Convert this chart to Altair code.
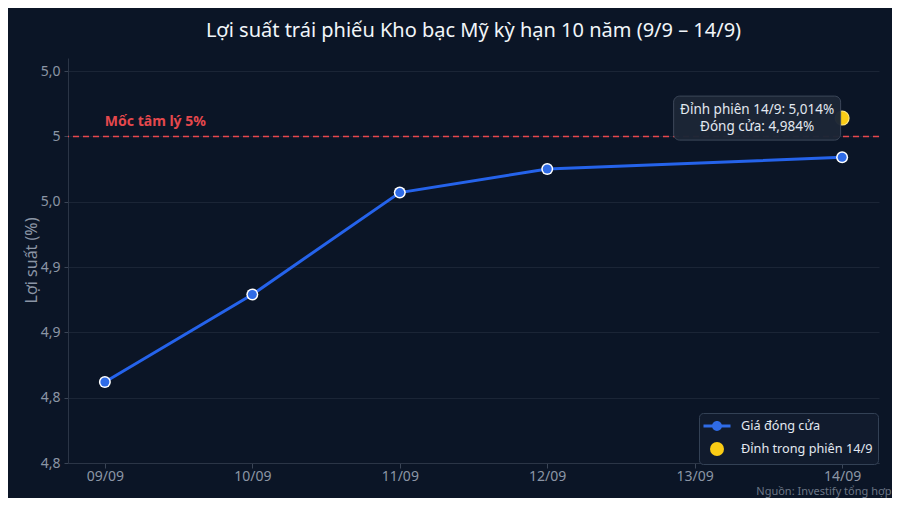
import altair as alt
import pandas as pd

# ---------------- data ----------------
dates = ["09/09", "10/09", "11/09", "12/09", "13/09", "14/09"]
close_dates = ["09/09", "10/09", "11/09", "12/09", "14/09"]
close_values = [4.812, 4.879, 4.957, 4.975, 4.984]
peak_date = "14/09"
peak_value = 5.014
threshold = 5.0
threshold_label = "Mốc tâm lý 5%"
y_ticks = [4.75, 4.80, 4.85, 4.90, 4.95, 5.00, 5.05]
y_tick_labels = ["4,8", "4,8", "4,9", "4,9", "5,0", "5", "5,0"]
series_names = ["Giá đóng cửa", "Đỉnh trong phiên 14/9"]
title_text = "Lợi suất trái phiếu Kho bạc Mỹ kỳ hạn 10 năm (9/9 – 14/9)"
y_title = "Lợi suất (%)"
source_text = "Nguồn: Investify tổng hợp"

def vn(v):
    return f"{v:.3f}".replace(".", ",")

annotation = f"Đỉnh phiên 14/9: {vn(peak_value)}%\nĐóng cửa: {vn(close_values[-1])}%"

close_df = pd.DataFrame({"date": close_dates, "value": close_values, "series": series_names[0]})
peak_df = pd.DataFrame({"date": [peak_date], "value": [peak_value], "series": [series_names[1]], "note": [annotation]})
all_df = pd.concat([close_df, peak_df], ignore_index=True)
thr_df = pd.DataFrame({"date": [dates[0]], "value": [threshold], "label": [threshold_label]})

# ---------------- styles ----------------
FONT = "Noto Sans"
BG = "#0b1526"
BLUE_LINE = "#2563eb"
BLUE_DOT = "#2f6be6"
YELLOW = "#facc15"
RED = "#e5484d"
GRAY = "#8b95a5"

label_expr = "''"
for v, lab in reversed(list(zip(y_ticks, y_tick_labels))):
    label_expr = f"abs(datum.value - {v}) < 0.001 ? '{lab}' : ({label_expr})"

x_enc = alt.X(
    "date:O",
    scale=alt.Scale(type="point", domain=dates, padding=0.25),
    axis=alt.Axis(
        title=source_text, titleX=823, titleY=28.5, titleAlign="right",
        titleBaseline="middle", titleColor="#6b7585", titleFontSize=11,
        titleFontWeight="normal", labelAngle=0, grid=False, tickSize=5,
        labelPadding=1, labelFontSize=14, labelColor=GRAY,
    ),
)
y_enc = alt.Y(
    "value:Q",
    scale=alt.Scale(domain=[4.75, 5.06], nice=False, zero=False),
    axis=alt.Axis(
        title=y_title, values=y_ticks, labelExpr=label_expr,
        titleX=-37, titleY=202, titleBaseline="middle", titleAlign="center",
        titleFontSize=16, titleFontWeight="normal", titleColor=GRAY,
        tickSize=4, labelPadding=4, labelFontSize=14, labelColor=GRAY,
    ),
)

rule = alt.Chart(thr_df).mark_rule(color=RED, strokeDash=[6, 4], strokeWidth=1.5).encode(y=y_enc)
thr_text = alt.Chart(thr_df).mark_text(
    align="left", baseline="middle", dy=-14, fontSize=14, fontWeight="bold", color=RED, font=FONT
).encode(x=x_enc, y=y_enc, text="label:N")

line = alt.Chart(close_df).mark_line(color=BLUE_LINE, strokeWidth=3).encode(x=x_enc, y=y_enc)
close_ring = alt.Chart(close_df).mark_circle(color="white", opacity=1, size=144).encode(x=x_enc, y=y_enc)
close_dot = alt.Chart(close_df).mark_circle(color=BLUE_DOT, opacity=1, size=81).encode(x=x_enc, y=y_enc)
peak_ring = alt.Chart(peak_df).mark_circle(color="#fde68a", opacity=1, size=225).encode(x=x_enc, y=y_enc)
peak_dot = alt.Chart(peak_df).mark_circle(color=YELLOW, opacity=1, size=169).encode(x=x_enc, y=y_enc)

line_symbol = ("M-1.93,-0.21H1.93V0.21H-1.93Z "
               "M0.71,0A0.71,0.71,0,1,1,-0.71,0A0.71,0.71,0,1,1,0.71,0Z")

legend = alt.Legend(
    title=None, orient="none", legendX=631, legendY=355,
    fillColor="#111b2d", strokeColor="#334155", cornerRadius=4,
    padding=5, symbolOffset=5, rowPadding=5, symbolSize=196,
    labelOffset=16, labelFont=FONT, labelFontSize=12.7, labelColor="#e2e8f0",
    symbolOpacity=1, labelLimit=250,
)
legend_layer = alt.Chart(all_df).mark_point(filled=True, opacity=0).encode(
    x=x_enc, y=y_enc,
    color=alt.Color("series:N", scale=alt.Scale(domain=series_names, range=[BLUE_DOT, YELLOW]), legend=legend),
    shape=alt.Shape("series:N", scale=alt.Scale(domain=series_names, range=[line_symbol, "circle"]), legend=legend),
)

note_box = alt.Chart(peak_df).mark_rect(
    width=167, height=44, xOffset=-85, fill="#1c2636", stroke="#3f4a5c",
    strokeWidth=1, cornerRadius=6, opacity=0.97,
).encode(x=x_enc, y=y_enc)
note_text = alt.Chart(peak_df).mark_text(
    lineBreak="\n", fontSize=13.5, color="#e2e8f0", dx=-85, dy=-8.5, lineHeight=17,
    align="center", baseline="middle", font=FONT,
).encode(x=x_enc, y=y_enc, text="note:N")

chart = alt.layer(
    rule, thr_text, line, close_ring, close_dot, peak_ring, peak_dot,
    legend_layer, note_box, note_text,
).properties(
    width=811, height=405,
    autosize=alt.AutoSizeParams(type="none"),
    padding={"left": 60, "top": 50, "right": 13, "bottom": 35},
    background=BG,
    title=alt.TitleParams(title_text, font=FONT, fontSize=20, color="#f1f5f9",
                          fontWeight="normal", anchor="middle", offset=17),
).configure(font=FONT).configure_view(stroke=None).configure_axis(
    labelFont=FONT, titleFont=FONT, gridColor="#1b2536",
    domainColor="#2b3546", tickColor="#3a4556",
)

chart.save("out.html", embed_options={"renderer": "svg", "actions": False})
